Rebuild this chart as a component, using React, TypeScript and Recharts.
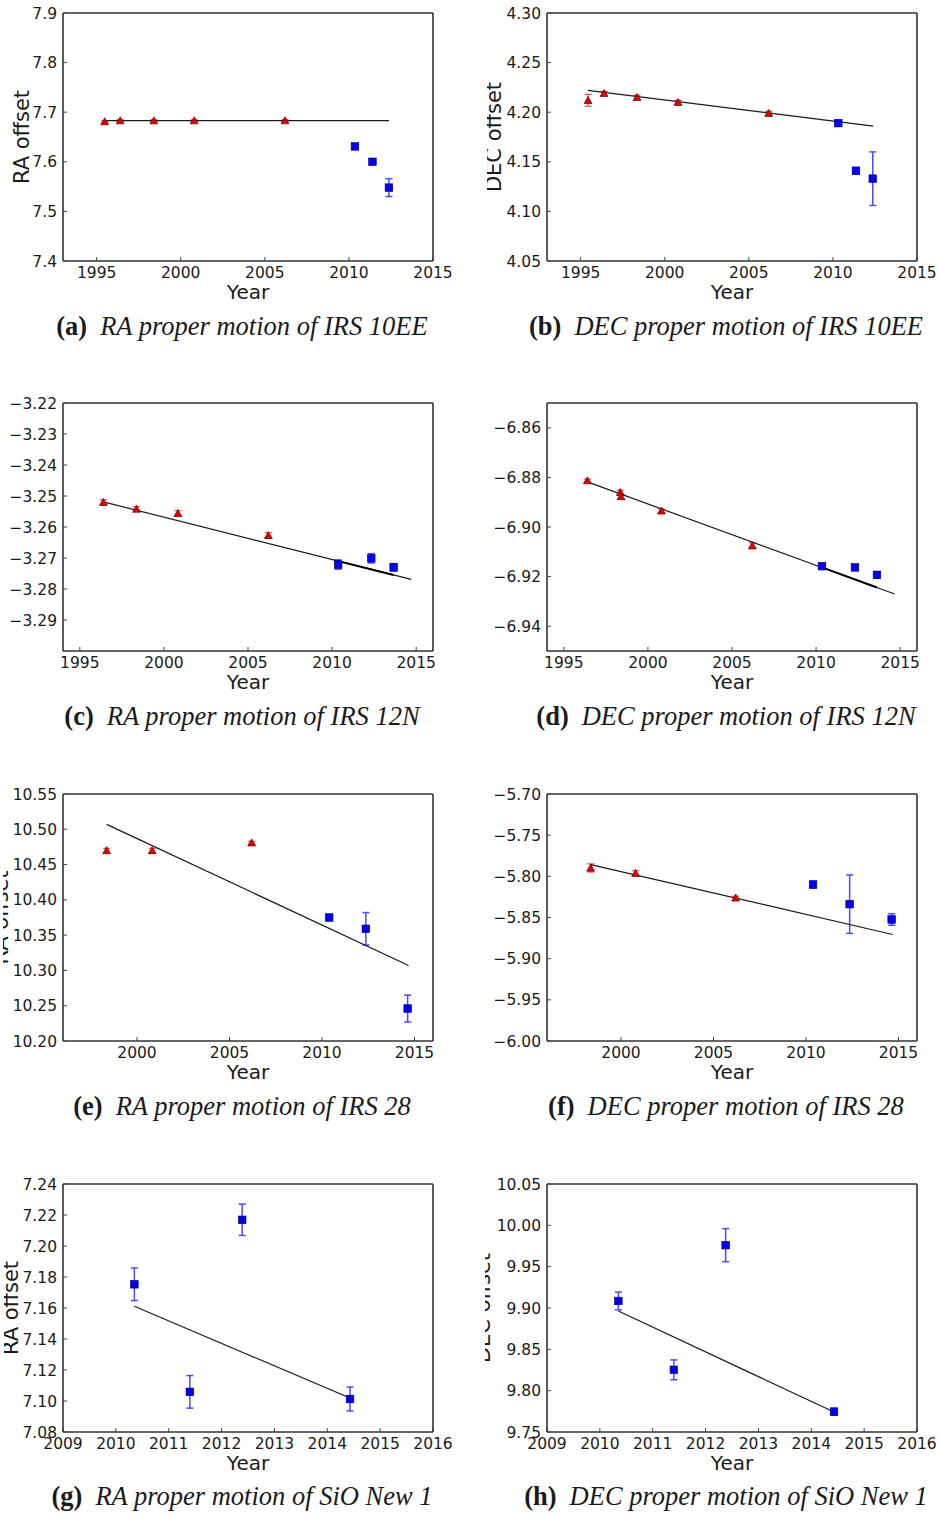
import React from "react";
import { ScatterChart, Scatter, XAxis, YAxis, ErrorBar } from "recharts";

type Pt = [number, number, number];

// year, offset, error
const A_TRI: Pt[] = [[1995.48, 7.681, 0.002], [1996.4, 7.683, 0.002], [1998.4, 7.683, 0.002], [2000.8, 7.683, 0.002], [2006.2, 7.683, 0.002]];
const A_SQ: Pt[] = [[2010.36, 7.631, 0.003], [2011.4, 7.6, 0.003], [2012.38, 7.548, 0.018]];
const A_FIT = [[1995.48, 7.683], [2012.38, 7.683]];

const B_TRI: Pt[] = [[1995.44, 4.212, 0.006], [1996.39, 4.219, 0.002], [1998.35, 4.215, 0.002], [2000.79, 4.21, 0.002], [2006.18, 4.199, 0.002]];
const B_SQ: Pt[] = [[2010.32, 4.189, 0.002], [2011.37, 4.141, 0.003], [2012.37, 4.133, 0.027]];
const B_FIT = [[1995.44, 4.222], [2012.4, 4.186]];

const C_TRI: Pt[] = [[1996.4, -3.252, 0.0008], [1998.37, -3.2542, 0.0008], [2000.83, -3.2556, 0.0009], [2006.21, -3.2627, 0.0009]];
const C_SQ: Pt[] = [[2010.36, -3.2721, 0.0015], [2012.33, -3.2701, 0.0015], [2013.66, -3.273, 0.0012]];
const C_FIT = [[1996.4, -3.2519], [2014.71, -3.2769]];
const C_FIT2 = [[2010.36, -3.271], [2013.66, -3.2755]];

const D_TRI: Pt[] = [[1996.4, -6.8813, 0.0006], [1998.36, -6.886, 0.0008], [1998.4, -6.8877, 0.0008], [2000.8, -6.8935, 0.0008], [2006.21, -6.9075, 0.0012]];
const D_SQ: Pt[] = [[2010.35, -6.9158, 0.0008], [2012.31, -6.9163, 0.0008], [2013.62, -6.9193, 0.0012]];
const D_FIT = [[1996.4, -6.8818], [2014.67, -6.927]];
const D_FIT2 = [[2010.35, -6.9163], [2013.62, -6.9244]];

const E_TRI: Pt[] = [[1998.36, 10.47, 0.003], [2000.82, 10.47, 0.003], [2006.2, 10.481, 0.002]];
const E_SQ: Pt[] = [[2010.39, 10.375, 0.004], [2012.37, 10.359, 0.023], [2014.63, 10.246, 0.019]];
const E_FIT = [[1998.36, 10.507], [2014.68, 10.307]];

const F_TRI: Pt[] = [[1998.36, -5.7898, 0.005], [2000.79, -5.7962, 0.003], [2006.2, -5.8262, 0.002]];
const F_SQ: Pt[] = [[2010.38, -5.81, 0.004], [2012.36, -5.8338, 0.0355], [2014.63, -5.8524, 0.007]];
const F_FIT = [[1998.36, -5.7857], [2014.68, -5.8706]];

const G_SQ: Pt[] = [[2010.35, 7.1753, 0.0105], [2011.4, 7.1059, 0.0105], [2012.39, 7.2169, 0.0101], [2014.43, 7.1013, 0.0077]];
const G_FIT = [[2010.35, 7.1611], [2014.43, 7.1019]];

const H_SQ: Pt[] = [[2010.35, 9.9085, 0.0107], [2011.4, 9.8252, 0.012], [2012.38, 9.976, 0.02], [2014.43, 9.7746, 0.004]];
const H_FIT = [[2010.35, 9.8963], [2014.43, 9.7742]];

const X_TICKS_A = [1995, 2000, 2005, 2010, 2015];
const X_TICKS_E = [2000, 2005, 2010, 2015];
const X_TICKS_G = [2009, 2010, 2011, 2012, 2013, 2014, 2015, 2016];

const A_YT = [7.4, 7.5, 7.6, 7.7, 7.8, 7.9];
const B_YT = [4.05, 4.1, 4.15, 4.2, 4.25, 4.3];
const C_YT = [-3.29, -3.28, -3.27, -3.26, -3.25, -3.24, -3.23, -3.22];
const D_YT = [-6.94, -6.92, -6.9, -6.88, -6.86];
const E_YT = [10.2, 10.25, 10.3, 10.35, 10.4, 10.45, 10.5, 10.55];
const F_YT = [-6.0, -5.95, -5.9, -5.85, -5.8, -5.75, -5.7];
const G_YT = [7.08, 7.1, 7.12, 7.14, 7.16, 7.18, 7.2, 7.22, 7.24];
const H_YT = [9.75, 9.8, 9.85, 9.9, 9.95, 10.0, 10.05];

const FONT = '"DejaVu Sans", sans-serif';
const SERIF = '"Liberation Serif", serif';
const INK = "#1a1a1a";

const PLOT_LEFT = [63, 547];
const PLOT_TOP = [13, 403, 794, 1184];
const PLOT_W = 370;
const CHART_RIGHT = [470, 939];
const CAP_BASE = [335, 725, 1115, 1505];
const CAP_CX = [242, 726];

const NONE: number[][] = [];
const NO_TRI: Pt[] = [];

const PANELS = [
  { key: "a", row: 0, col: 0, clip: 0, tri: A_TRI, sq: A_SQ, fit: A_FIT, fit2: NONE, xDom: [1993, 2015], xTicks: X_TICKS_A, yDom: [7.4, 7.9], yTicks: A_YT, dec: 1, ylabel: "RA offset", labelX: 29, cap: "RA proper motion of IRS 10EE" },
  { key: "b", row: 0, col: 1, clip: 487, tri: B_TRI, sq: B_SQ, fit: B_FIT, fit2: NONE, xDom: [1993, 2015], xTicks: X_TICKS_A, yDom: [4.05, 4.3], yTicks: B_YT, dec: 2, ylabel: "DEC offset", labelX: 501, cap: "DEC proper motion of IRS 10EE" },
  { key: "c", row: 1, col: 0, clip: 0, tri: C_TRI, sq: C_SQ, fit: C_FIT, fit2: C_FIT2, xDom: [1994, 2016], xTicks: X_TICKS_A, yDom: [-3.3, -3.22], yTicks: C_YT, dec: 2, ylabel: null, labelX: 0, cap: "RA proper motion of IRS 12N" },
  { key: "d", row: 1, col: 1, clip: 486, tri: D_TRI, sq: D_SQ, fit: D_FIT, fit2: D_FIT2, xDom: [1994, 2016], xTicks: X_TICKS_A, yDom: [-6.95, -6.85], yTicks: D_YT, dec: 2, ylabel: null, labelX: 0, cap: "DEC proper motion of IRS 12N" },
  { key: "e", row: 2, col: 0, clip: 3, tri: E_TRI, sq: E_SQ, fit: E_FIT, fit2: NONE, xDom: [1996, 2016], xTicks: X_TICKS_E, yDom: [10.2, 10.55], yTicks: E_YT, dec: 2, ylabel: "RA offset", labelX: 8, cap: "RA proper motion of IRS 28" },
  { key: "f", row: 2, col: 1, clip: 486, tri: F_TRI, sq: F_SQ, fit: F_FIT, fit2: NONE, xDom: [1996, 2016], xTicks: X_TICKS_E, yDom: [-6.0, -5.7], yTicks: F_YT, dec: 2, ylabel: null, labelX: 0, cap: "DEC proper motion of IRS 28" },
  { key: "g", row: 3, col: 0, clip: 4, tri: NO_TRI, sq: G_SQ, fit: G_FIT, fit2: NONE, xDom: [2009, 2016], xTicks: X_TICKS_G, yDom: [7.08, 7.24], yTicks: G_YT, dec: 2, ylabel: "RA offset", labelX: 18, cap: "RA proper motion of SiO New 1" },
  { key: "h", row: 3, col: 1, clip: 485, tri: NO_TRI, sq: H_SQ, fit: H_FIT, fit2: NONE, xDom: [2009, 2016], xTicks: X_TICKS_G, yDom: [9.75, 10.05], yTicks: H_YT, dec: 2, ylabel: "DEC offset", labelX: 490, cap: "DEC proper motion of SiO New 1" },
];

function Tri(props: any) {
  const { cx, cy } = props;
  if (cx == null || cy == null) return <g />;
  return (
    <polygon
      points={`${cx},${cy - 3.8} ${cx - 3.9},${cy + 3.2} ${cx + 3.9},${cy + 3.2}`}
      fill="#e60000"
      stroke="#5a0000"
      strokeWidth={0.7}
    />
  );
}

function Sq(props: any) {
  const { cx, cy } = props;
  if (cx == null || cy == null) return <g />;
  return <rect x={cx - 3.8} y={cy - 3.8} width={7.6} height={7.6} fill="#0000f2" stroke="#000070" strokeWidth={0.6} />;
}

const Empty = () => <g />;

const FRAME = { stroke: "#333", strokeWidth: 1.6 };
const TLINE = { stroke: "#444", strokeWidth: 1 };
const TICK = { fill: INK, fontSize: 15.5, fontFamily: FONT };

function Panel({ p }: { p: (typeof PANELS)[number] }) {
  const plotLeft = PLOT_LEFT[p.col];
  const plotTop = PLOT_TOP[p.row];
  const plotH = p.row === 2 ? 247 : 248;
  const left = p.clip;
  const top = plotTop - 10;
  const width = CHART_RIGHT[p.col] - left;
  const height = 10 + plotH + 50;
  const yAxisW = plotLeft - left;
  const toObj = (a: Pt[]) => a.map(([x, y, e]) => ({ x, y, e }));
  const toXY = (a: number[][]) => a.map(([x, y]) => ({ x, y }));
  const fmt = (v: number) => v.toFixed(p.dec).replace("-", "\u2212");
  const lx = p.labelX - left;
  const ly = 10 + plotH / 2;

  return (
    <div style={{ position: "absolute", left, top, width, height, overflow: "hidden" }}>
      <ScatterChart
        width={width}
        height={height}
        margin={{ top: 9, right: CHART_RIGHT[p.col] - plotLeft - PLOT_W - 1, bottom: 0, left: 0 }}
      >
        <XAxis
          type="number"
          dataKey="x"
          domain={p.xDom}
          ticks={p.xTicks}
          interval={0}
          allowDataOverflow
          height={50}
          tickSize={-4}
          tickMargin={10}
          tick={TICK}
          axisLine={FRAME}
          tickLine={TLINE}
          label={{
            content: () => (
              <text x={yAxisW + PLOT_W / 2} y={10 + plotH + 38} textAnchor="middle" fontSize={20} fill={INK} fontFamily={FONT}>
                Year
              </text>
            ),
          }}
        />
        <XAxis
          xAxisId="t"
          orientation="top"
          type="number"
          dataKey="x"
          domain={p.xDom}
          ticks={p.xTicks}
          interval={0}
          allowDataOverflow
          height={1}
          tickSize={-4}
          tick={false}
          axisLine={FRAME}
          tickLine={TLINE}
        />
        <YAxis
          type="number"
          dataKey="y"
          domain={p.yDom}
          ticks={p.yTicks}
          interval={0}
          allowDataOverflow
          width={yAxisW}
          tickSize={-4}
          tickMargin={10}
          tick={TICK}
          tickFormatter={fmt}
          axisLine={FRAME}
          tickLine={TLINE}
          label={
            p.ylabel
              ? {
                  content: () => (
                    <text x={lx} y={ly} transform={`rotate(-90 ${lx} ${ly})`} textAnchor="middle" fontSize={21} fill={INK} fontFamily={FONT}>
                      {p.ylabel}
                    </text>
                  ),
                }
              : undefined
          }
        />
        <YAxis
          yAxisId="r"
          orientation="right"
          type="number"
          dataKey="y"
          domain={p.yDom}
          ticks={p.yTicks}
          interval={0}
          allowDataOverflow
          width={1}
          tickSize={-4}
          tick={false}
          axisLine={FRAME}
          tickLine={TLINE}
        />
        <Scatter data={toXY(p.fit)} xAxisId="t" yAxisId="r" line={{ stroke: INK, strokeWidth: 1.2 }} shape={Empty} isAnimationActive={false} />
        {p.fit2.length > 0 && (
          <Scatter data={toXY(p.fit2)} xAxisId="t" yAxisId="r" line={{ stroke: "#000", strokeWidth: 2 }} shape={Empty} isAnimationActive={false} />
        )}
        {p.tri.length > 0 && (
          <Scatter data={toObj(p.tri)} shape={Tri} isAnimationActive={false}>
            <ErrorBar dataKey="e" direction="y" width={3.5} stroke="#ff5050" strokeWidth={1.3} />
          </Scatter>
        )}
        <Scatter data={toObj(p.sq)} shape={Sq} isAnimationActive={false}>
          <ErrorBar dataKey="e" direction="y" width={3.5} stroke="#4a4aff" strokeWidth={1.5} />
        </Scatter>
      </ScatterChart>
    </div>
  );
}

function Caption({ p }: { p: (typeof PANELS)[number] }) {
  const cx = CAP_CX[p.col];
  return (
    <div
      style={{
        position: "absolute",
        left: cx - 240,
        width: 480,
        top: CAP_BASE[p.row] - 22,
        textAlign: "center",
        fontFamily: SERIF,
        fontSize: 26.5,
        lineHeight: "26px",
        color: INK,
        whiteSpace: "nowrap",
      }}
    >
      <span style={{ fontWeight: "bold" }}>({p.key})</span>
      <span style={{ marginLeft: 13, fontStyle: "italic" }}>{p.cap}</span>
    </div>
  );
}

export default function App() {
  return (
    <div style={{ position: "absolute", left: 0, top: 0, width: 939, height: 1517, background: "#fff", overflow: "hidden", fontFamily: FONT }}>
      {PANELS.map((p) => (
        <React.Fragment key={p.key}>
          <Panel p={p} />
          <Caption p={p} />
        </React.Fragment>
      ))}
    </div>
  );
}
